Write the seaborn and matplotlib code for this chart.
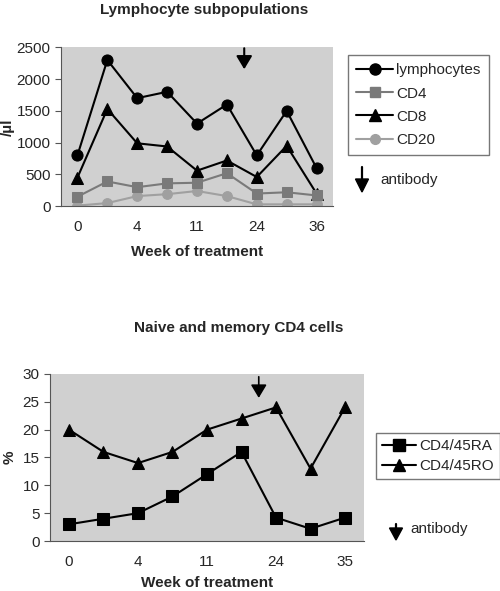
import numpy as np
import pandas as pd
import matplotlib
matplotlib.use("Agg")
import matplotlib.pyplot as plt
import seaborn as sns
from matplotlib.lines import Line2D

sns.set_style("white")
plt.rcParams["font.family"] = ["Liberation Sans", "DejaVu Sans"]

# --- data ---
weeks_top = ["0", "", "4", "", "11", "", "24", "", "36"]
lymphocytes = [800, 2300, 1700, 1800, 1300, 1600, 800, 1500, 600]
cd4 = [150, 390, 300, 360, 370, 520, 200, 220, 170]
cd8 = [450, 1530, 990, 940, 560, 720, 460, 950, 200]
cd20 = [10, 50, 160, 190, 240, 160, 30, 30, 30]

weeks_bottom = ["0", "", "4", "", "11", "", "24", "", "35"]
cd4_45ra = [3, 4, 5, 8, 12, 16, 4.2, 2.2, 4.2]
cd4_45ro = [20, 16, 14, 16, 20, 22, 24, 13, 24]

BG = "#d0d0d0"
ARROW = dict(arrowstyle="-|>,head_width=0.3,head_length=0.5", color="black",
             lw=1.5, mutation_scale=16, shrinkA=0, shrinkB=0)


def style_axes(ax, labels, ymax, ystep, xlabelpad):
    n = len(labels)
    ax.set_facecolor(BG)
    ax.set_xlim(-0.55, n - 0.45)
    ax.set_ylim(0, ymax)
    ax.set_yticks(np.arange(0, ymax + 1, ystep))
    ax.set_xticks(range(n))
    ax.set_xticklabels(labels)
    ax.set_xticks(np.arange(-0.5, n, 1.0), minor=True)
    ax.tick_params(axis="x", which="major", length=0, labelsize=11, pad=10)
    ax.tick_params(axis="x", which="minor", length=4, direction="out", color="#555555")
    ax.tick_params(axis="y", length=4, direction="out", labelsize=11, color="#555555", left=True)
    for side in ["top", "right"]:
        ax.spines[side].set_visible(False)
    ax.spines["left"].set_color("#555555")
    ax.spines["bottom"].set_color("#555555")
    ax.set_xlabel("Week of treatment", fontsize=11, fontweight="bold", labelpad=xlabelpad)


def antibody_key(fig, x, y, tx, head_h, shaft_h):
    # y is the tip of the arrow head, in figure pixels from the top
    H = fig.bbox.height
    W = fig.bbox.width
    fx = x / W
    tip = 1 - y / H
    base = 1 - (y - head_h) / H
    hw = 6.5 / W
    fig.patches.append(plt.Polygon([[fx - hw, base], [fx + hw, base], [fx, tip]], closed=True,
                                   color="black", transform=fig.transFigure, figure=fig))
    fig.add_artist(Line2D([fx, fx], [base - 0.002, 1 - (y - head_h - shaft_h) / H],
                          color="black", lw=1.6, transform=fig.transFigure))
    fig.text(tx / W, 1 - (y - head_h * 0.9) / H, "antibody", fontsize=11, va="center", ha="left")


fig = plt.figure(figsize=(5.0, 5.91), dpi=100)

# ---------- top panel ----------
ax1 = fig.add_axes([0.122, 0.651, 0.544, 0.269])
x = np.arange(len(lymphocytes))
top_series = [
    ("lymphocytes", lymphocytes, "black", "o", 8),
    ("CD4", cd4, "#7a7a7a", "s", 7),
    ("CD8", cd8, "black", "^", 8),
    ("CD20", cd20, "#a0a0a0", "o", 7),
]
for name, vals, col, mk, ms in top_series[::-1]:
    sns.lineplot(x=x, y=vals, ax=ax1, color=col, marker=mk, markersize=ms,
                 markeredgecolor=col, linewidth=1.5, label=name, legend=False)
style_axes(ax1, weeks_top, 2500, 500, 8)
ax1.set_ylabel("/µl", fontsize=11, fontweight="bold", labelpad=1)
ax1.set_title("Lymphocyte subpopulations", fontsize=11, fontweight="bold", pad=24, x=0.528)
ax1.annotate("", xy=(5.58, 2155), xytext=(5.58, 2485), arrowprops=ARROW)

handles1 = [Line2D([], [], color=c, marker=m, markersize=s, lw=1.5, label=n)
            for n, _, c, m, s in top_series]
fig.legend(handles=handles1, loc="upper left", bbox_to_anchor=(0.696, 1 - 55 / 591),
           frameon=True, fancybox=False, edgecolor="#555555", fontsize=11, borderaxespad=0,
           handlelength=2.4, handletextpad=0.2, labelspacing=0.6, borderpad=0.55)

# ---------- bottom panel ----------
ax2 = fig.add_axes([0.10, 0.0846, 0.628, 0.2826])
x2 = np.arange(len(cd4_45ra))
bottom_series = [
    ("CD4/45RA", cd4_45ra, "s"),
    ("CD4/45RO", cd4_45ro, "^"),
]
for name, vals, mk in bottom_series:
    sns.lineplot(x=x2, y=vals, ax=ax2, color="black", marker=mk, markersize=8,
                 markeredgecolor="black", linewidth=1.5, label=name, legend=False)
style_axes(ax2, weeks_bottom, 30, 5, 5)
ax2.set_ylabel("%", fontsize=11, fontweight="bold", labelpad=4)
ax2.set_title("Naive and memory CD4 cells", fontsize=11, fontweight="bold", pad=30, x=0.60)
ax2.annotate("", xy=(5.5, 25.7), xytext=(5.5, 29.5), arrowprops=dict(ARROW, lw=1.2))

handles2 = [Line2D([], [], color="black", marker=m, markersize=8, lw=1.5, label=n)
            for n, _, m in bottom_series]
fig.legend(handles=handles2, loc="upper left", bbox_to_anchor=(376 / 500, 1 - 433 / 591),
           frameon=True, fancybox=False, edgecolor="#555555", fontsize=11, borderaxespad=0,
           handlelength=2.2, handletextpad=0.2, labelspacing=0.4, borderpad=0.4)

# "antibody" keys
antibody_key(fig, 362, 192, 380, 13, 12)
antibody_key(fig, 396, 540, 410, 12, 4)

fig.savefig("out.png", dpi=100, facecolor="white")
